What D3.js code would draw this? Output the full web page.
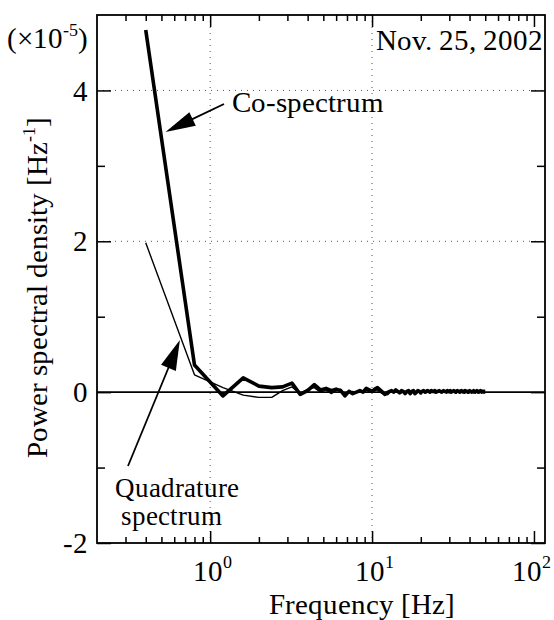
<!DOCTYPE html>
<html><head><meta charset="utf-8">
<script src="https://cdn.jsdelivr.net/npm/d3@7"></script>
<style>
@font-face{font-family:"SerifX";src:local("Liberation Serif"),local("LiberationSerif"),local("LiberationSerif-Regular"),local("DejaVu Serif"),local("DejaVuSerif"),local("Times New Roman");}
body{margin:0;background:#fff}
svg{display:block}
</style>
</head><body>
<script>
// Frequencies [Hz]
const freq = [0.4,0.8,1.2,1.6,2.0,2.4,2.8,3.2,3.6,4.0,4.4,4.8,5.2,5.6,6.0,6.4,6.8,7.2,7.6,8.0,8.4,8.8,9.2,9.6,10.0,
10.4,10.8,11.2,11.6,12.0,12.4,12.8,13.2,13.6,14.0,14.4,14.8,15.2,15.6,16.0,16.4,16.8,17.2,17.6,18.0,18.4,18.8,19.2,19.6,20.0,
20.4,20.8,21.2,21.6,22.0,22.4,22.8,23.2,23.6,24.0,24.4,24.8,25.2,25.6,26.0,26.4,26.8,27.2,27.6,28.0,
28.4,28.8,29.2,29.6,30.0,30.4,30.8,31.2,31.6,32.0,32.4,32.8,33.2,33.6,34.0,34.4,34.8,35.2,35.6,36.0,
36.4,36.8,37.2,37.6,38.0,38.4,38.8,39.2,39.6,40.0,40.4,40.8,41.2,41.6,42.0,42.4,42.8,43.2,43.6,44.0,
44.4,44.8,45.2,45.6,46.0,46.4,46.8,47.2,47.6,48.0,48.4,48.8,49.2,49.6,50.0];
// Co-spectrum (x1e-5 Hz^-1)
const coSpectrum = [4.80,0.36,-0.05,0.19,0.08,0.06,0.07,0.12,-0.03,0.02,0.10,0.03,0.05,0.02,0.04,0.02,-0.05,0.01,-0.02,0.00,0.02,0.00,0.05,0.03,0.01,
0.04,0.06,0.03,0.00,-0.03,-0.02,0.01,0.02,0.00,0.03,0.01,-0.01,0.02,0.01,-0.02,0.01,0.02,-0.02,0.01,0.02,-0.02,0.00,0.02,0.01,-0.01,
0.01,0.02,0.00,0.01,0.02,0.01,0.00,0.02,0.01,0.01,
0.02,0.00,0.01,0.01,0.02,0.01,0.00,0.01,0.02,0.01,
0.01,0.00,0.02,0.01,0.01,0.02,0.00,0.01,0.01,0.02,
0.01,0.00,0.01,0.02,0.01,0.01,0.00,0.01,0.02,0.01,
0.01,0.01,0.00,0.02,0.01,0.01,0.01,0.00,0.01,0.02,
0.01,0.01,0.00,0.01,0.01,0.02,0.01,0.00,0.01,0.01,
0.02,0.01,0.00,0.01,0.01,0.01,0.02,0.01,0.00,0.01,
0.01,0.01,0.00,0.01,0.01];
// Quadrature spectrum (x1e-5 Hz^-1)
const quadSpectrum = [1.98,0.23,0.06,-0.04,-0.07,-0.07,0.02,0.07,-0.02,0.04,0.06,0.00,0.03,-0.02,0.02,0.04,-0.03,0.00,0.01,-0.01,0.01,0.00,0.02,0.01,0.00,
0.02,0.03,0.00,-0.02,-0.01,0.01,0.00,0.01,-0.01,0.01,0.00,0.01,-0.01,0.00,0.01,0.00,-0.01,0.01,0.00,0.00,0.01,-0.01,0.00,0.01,0.00,
0.00,0.01,0.00,-0.01,0.00,0.01,0.00,0.00,0.01,0.00,
-0.01,0.00,0.01,0.00,0.00,0.01,0.00,-0.01,0.00,0.01,
0.00,0.00,0.01,0.00,-0.01,0.00,0.00,0.01,0.00,0.00,
0.01,0.00,-0.01,0.00,0.01,0.00,0.00,0.01,0.00,0.00,
-0.01,0.00,0.01,0.00,0.00,0.01,0.00,0.00,-0.01,0.00,
0.01,0.00,0.00,0.01,0.00,-0.01,0.00,0.00,0.01,0.00,
0.00,0.01,0.00,0.00,-0.01,0.00,0.01,0.00,0.00,0.01,
0.00,0.00,0.01,0.00,0.00];
const xMajorTicks = [1, 10, 100];
const xTickExponents = ["0", "1", "2"];
const yMajorTicks = [-2, 0, 2, 4];
const yTickLabels = ["-2", "0", "2", "4"];
const yMinorTicks = [-1, 1, 3];
const dateLabel = "Nov. 25, 2002";

const W = 554, H = 620;
const FONT = "SerifX, 'Liberation Serif', 'DejaVu Serif', serif";
const svg = d3.select("body").append("svg").attr("width", W).attr("height", H)
  .attr("font-family", FONT).style("font-family", FONT);

const x = d3.scaleLog().domain([0.2, 117]).range([97, 545]);
const y = d3.scaleLinear().domain([-2, 5]).range([543, 15]);
const [x0, x1] = x.range();
const [yb, yt] = y.range();

// minor x ticks
const xMinor = [];
[0.1, 1, 10].forEach(d => { for (let k = 2; k <= 9; k++) { const v = d * k; if (v > 0.2 && v < 117) xMinor.push(v); } });

// grid (dotted)
const grid = svg.append("g").attr("stroke", "#555").attr("stroke-width", 1).attr("stroke-dasharray", "1,5");
grid.selectAll("line.gx").data([1, 10]).join("line")
  .attr("x1", d => x(d)).attr("x2", d => x(d)).attr("y1", yt).attr("y2", yb);
grid.selectAll("line.gy").data([2, 4]).join("line")
  .attr("x1", x0).attr("x2", x1).attr("y1", d => y(d)).attr("y2", d => y(d));

// zero line
svg.append("line").attr("x1", x0).attr("x2", x1).attr("y1", y(0)).attr("y2", y(0))
  .attr("stroke", "#000").attr("stroke-width", 1.6);

// ticks using d3 axes (inward)
const axB = d3.axisBottom(x).tickValues(xMajorTicks).tickSizeInner(-12).tickSizeOuter(0).tickFormat("");
const axBm = d3.axisBottom(x).tickValues(xMinor).tickSizeInner(-6).tickSizeOuter(0).tickFormat("");
const axT = d3.axisTop(x).tickValues(xMajorTicks).tickSizeInner(-12).tickSizeOuter(0).tickFormat("");
const axTm = d3.axisTop(x).tickValues(xMinor).tickSizeInner(-6).tickSizeOuter(0).tickFormat("");
const axL = d3.axisLeft(y).tickValues(yMajorTicks).tickSizeInner(-14).tickSizeOuter(0).tickFormat("");
const axLm = d3.axisLeft(y).tickValues(yMinorTicks).tickSizeInner(-8).tickSizeOuter(0).tickFormat("");
const axR = d3.axisRight(y).tickValues(yMajorTicks).tickSizeInner(-14).tickSizeOuter(0).tickFormat("");
const axRm = d3.axisRight(y).tickValues(yMinorTicks).tickSizeInner(-8).tickSizeOuter(0).tickFormat("");
function styleAx(g) { g.select(".domain").remove(); g.selectAll("line").attr("stroke", "#000").attr("stroke-width", 1.5); }
svg.append("g").attr("transform", `translate(0,${yb})`).call(axB).call(styleAx);
svg.append("g").attr("transform", `translate(0,${yb})`).call(axBm).call(styleAx);
svg.append("g").attr("transform", `translate(0,${yt})`).call(axT).call(styleAx);
svg.append("g").attr("transform", `translate(0,${yt})`).call(axTm).call(styleAx);
svg.append("g").attr("transform", `translate(${x0},0)`).call(axL).call(styleAx);
svg.append("g").attr("transform", `translate(${x0},0)`).call(axLm).call(styleAx);
svg.append("g").attr("transform", `translate(${x1},0)`).call(axR).call(styleAx);
svg.append("g").attr("transform", `translate(${x1},0)`).call(axRm).call(styleAx);

// frame
svg.append("rect").attr("x", x0).attr("y", yt).attr("width", x1 - x0).attr("height", yb - yt)
  .attr("fill", "none").attr("stroke", "#000").attr("stroke-width", 1.8);

// data lines
const line = d3.line().x(d => x(d[0])).y(d => y(d[1]));
svg.append("path").datum(freq.map((f, i) => [f, quadSpectrum[i]]))
  .attr("d", line).attr("fill", "none").attr("stroke", "#000").attr("stroke-width", 1.4).attr("stroke-linejoin", "round");
svg.append("path").datum(freq.map((f, i) => [f, coSpectrum[i]]))
  .attr("d", line).attr("fill", "none").attr("stroke", "#000").attr("stroke-width", 3.6).attr("stroke-linejoin", "round");

function txt(sel) { return sel.attr("font-family", FONT).style("font-family", FONT).attr("fill", "#000"); }

// tick labels
const fs = 29;
txt(svg.append("g").selectAll("text").data(yMajorTicks).join("text"))
  .attr("x", 88).attr("y", d => y(d)).attr("dy", "0.35em").attr("text-anchor", "end")
  .attr("font-size", fs).text((d, i) => yTickLabels[i]);
const xl = txt(svg.append("g").selectAll("text").data(xMajorTicks).join("text"))
  .attr("x", d => x(d) + 2).attr("y", 581).attr("text-anchor", "middle").attr("font-size", fs);
xl.append("tspan").text("10");
xl.append("tspan").attr("font-size", 18).attr("dy", -13).text((d, i) => xTickExponents[i]);
xl.each(function () {
  const b = this.getBBox();
  if (b.x + b.width > 551) d3.select(this).attr("x", +d3.select(this).attr("x") - (b.x + b.width - 551));
});

// axis titles
txt(svg.append("text")).attr("x", 362).attr("y", 614).attr("text-anchor", "middle").attr("font-size", fs).text("Frequency [Hz]");
const yt2 = txt(svg.append("text")).attr("transform", "translate(47,287) rotate(-90)").attr("text-anchor", "middle").attr("font-size", fs);
yt2.append("tspan").text("Power spectral density [Hz");
yt2.append("tspan").attr("font-size", 18).attr("dy", -12).text("-1");
yt2.append("tspan").attr("dy", 12).text("]");

// multiplier
const mul = txt(svg.append("text")).attr("x", 7).attr("y", 48).attr("font-size", fs);
mul.append("tspan").text("(\u00d710");
mul.append("tspan").attr("font-size", 18).attr("dy", -12).text("-5");
mul.append("tspan").attr("dy", 12).text(")");

// date
txt(svg.append("text")).attr("x", 543).attr("y", 50).attr("text-anchor", "end").attr("font-size", fs).text(dateLabel);

// annotations
function arrow(fromX, fromY, tipX, tipY, headLen, headW) {
  const dx = tipX - fromX, dy = tipY - fromY, L = Math.hypot(dx, dy);
  const ux = dx / L, uy = dy / L;
  const bx = tipX - ux * headLen, by = tipY - uy * headLen;
  svg.append("line").attr("x1", fromX).attr("y1", fromY).attr("x2", bx + ux * 2).attr("y2", by + uy * 2)
    .attr("stroke", "#000").attr("stroke-width", 1.8);
  const px = -uy * headW / 2, py = ux * headW / 2;
  svg.append("path").attr("d", `M${tipX},${tipY}L${bx + px},${by + py}L${bx - px},${by - py}Z`).attr("fill", "#000");
}
txt(svg.append("text")).attr("x", 232).attr("y", 112).attr("font-size", fs).text("Co-spectrum");
arrow(224, 104, x(0.53), y(3.45), 30, 15);
txt(svg.append("text")).attr("x", 115).attr("y", 497).attr("font-size", 27).text("Quadrature");
txt(svg.append("text")).attr("x", 121).attr("y", 525).attr("font-size", 27).text("spectrum");
arrow(128, 466, x(0.65), y(0.69), 30, 16);
</script>
</body></html>
